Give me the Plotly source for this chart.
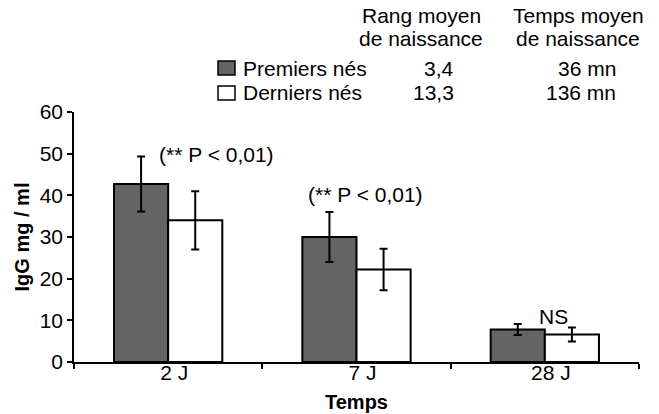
import plotly.graph_objects as go

categories = ["2 J", "7 J", "28 J"]
premiers_values = [42.7, 30.0, 7.8]
premiers_errors = [6.6, 6.0, 1.3]
derniers_values = [34.0, 22.2, 6.6]
derniers_errors = [7.0, 5.0, 1.7]
series_names = ["Premiers nés", "Derniers nés"]
rang_moyen = ["3,4", "13,3"]
temps_moyen = ["36 mn", "136 mn"]
sig_labels = ["(** P < 0,01)", "(** P < 0,01)", "NS"]
y_ticks = [0, 10, 20, 30, 40, 50, 60]

FONT = "Liberation Sans, Arial, Helvetica, sans-serif"
FS = 21
GREY = "#646464"

fig = go.Figure()
fig.add_trace(go.Bar(
    x=categories, y=premiers_values, name=series_names[0],
    marker=dict(color=GREY, line=dict(color="black", width=2)),
    error_y=dict(type="data", array=premiers_errors, color="black", thickness=2, width=4),
    showlegend=False,
))
fig.add_trace(go.Bar(
    x=categories, y=derniers_values, name=series_names[1],
    marker=dict(color="white", line=dict(color="black", width=2)),
    error_y=dict(type="data", array=derniers_errors, color="black", thickness=2, width=4),
    showlegend=False,
))

# significance annotations: (category, offset in category units, y value)
sig_pos = [(0, 0.258, 49.7), (1, 0.046, 40.1), (2, 0.045, 10.9)]
annotations = []
for (idx, dx, yv), txt in zip(sig_pos, sig_labels):
    annotations.append(dict(
        x=idx + dx, y=yv, xref="x", yref="y",
        text=txt, showarrow=False, xanchor="center", yanchor="middle",
        font=dict(size=FS, color="black", family=FONT),
    ))

# legend table (paper coordinates via pixel mapping)
W, H = 659, 414
L, R, T, B = 74, 20, 112, 52
pw, ph = W - L - R, H - T - B

def px_x(x):
    return (x - L) / pw

def px_y(y):
    return (H - B - y) / ph

tfont = dict(size=FS, color="black", family=FONT)
for cx, lines in [(421, ["Rang moyen", "de naissance"]), (578, ["Temps moyen", "de naissance"])]:
    for ly, line in zip([15, 39], lines):
        annotations.append(dict(x=px_x(cx), y=px_y(ly), xref="paper", yref="paper",
                                text=line, showarrow=False, xanchor="center",
                                yanchor="middle", font=tfont))
row_y = [68, 93]
fills = [GREY, "white"]
shapes = []
for i in range(2):
    shapes.append(dict(type="rect", xref="paper", yref="paper",
                       x0=px_x(218), x1=px_x(235), y0=px_y(row_y[i] - 7), y1=px_y(row_y[i] + 7),
                       fillcolor=fills[i], line=dict(color="black", width=1.5)))
    annotations.append(dict(x=px_x(241), y=px_y(row_y[i]), xref="paper", yref="paper",
                            text=series_names[i], showarrow=False, xanchor="left",
                            yanchor="middle", font=tfont))
    annotations.append(dict(x=px_x(456), y=px_y(row_y[i]), xref="paper", yref="paper",
                            text=rang_moyen[i], showarrow=False, xanchor="right",
                            yanchor="middle", font=tfont))
    annotations.append(dict(x=px_x(618), y=px_y(row_y[i]), xref="paper", yref="paper",
                            text=temps_moyen[i], showarrow=False, xanchor="right",
                            yanchor="middle", font=tfont))

fig.update_layout(
    width=W, height=H,
    margin=dict(l=L, r=R, t=T, b=B, pad=0),
    paper_bgcolor="white", plot_bgcolor="white",
    barmode="group", bargap=0.425, bargroupgap=0,
    font=dict(family=FONT, size=FS, color="black"),
    annotations=annotations, shapes=shapes,
    xaxis=dict(
        automargin=False,
        showline=True, linecolor="black", linewidth=1.5,
        ticks="outside", tickson="boundaries", ticklen=5, tickcolor="black", tickwidth=1.5,
        showgrid=False, tickfont=dict(size=FS, family=FONT),
        ticklabelstandoff=-9, ticklabelshift=6,
        title=dict(text="<b>Temps</b>", font=dict(size=FS - 1, family=FONT), standoff=12),
    ),
    yaxis=dict(
        automargin=False,
        range=[0, 60], tickvals=y_ticks, showline=True, linecolor="black", linewidth=1.5,
        ticks="outside", ticklen=5, tickcolor="black", tickwidth=1.5,
        showgrid=False, zeroline=False, tickfont=dict(size=FS, family=FONT),
        title=dict(text="<b>IgG mg / ml</b>", font=dict(size=FS - 1, family=FONT), standoff=5),
    ),
)

fig.write_html("out.html", config={"displayModeBar": False},
               post_script="document.body.style.margin='0';")
